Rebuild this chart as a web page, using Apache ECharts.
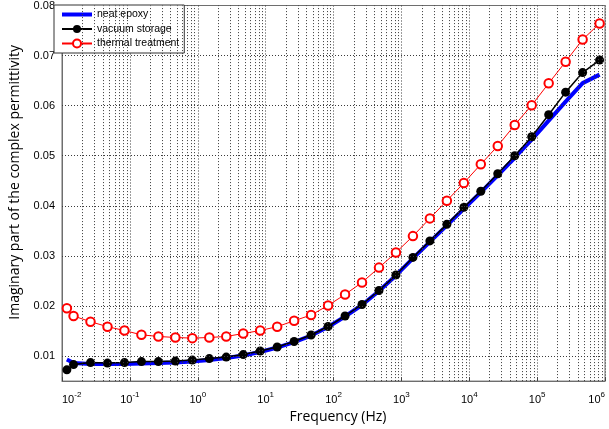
<!DOCTYPE html>
<html>
<head>
<meta charset="utf-8">
<script src="https://cdn.jsdelivr.net/npm/echarts@6/dist/echarts.min.js"></script>
<style>
html,body{margin:0;padding:0;background:#fff;}
#chart{width:609px;height:429px;}
</style>
</head>
<body>
<div id="chart"></div>
<script>
// Frequencies (Hz)
const freq = [0.0118, 0.0148, 0.0263, 0.0468, 0.0832, 0.148, 0.263, 0.468, 0.832,
  1.48, 2.63, 4.68, 8.32, 14.8, 26.3, 46.8, 83.2, 148, 263, 468, 832,
  1480, 2630, 4680, 8320, 14800, 26300, 46800, 83200, 148000, 263000, 468000, 832000];

const neatEpoxy = [0.0093, 0.0086, 0.0084, 0.0084, 0.0084, 0.0085, 0.0086, 0.0087, 0.0089,
  0.0092, 0.0096, 0.0101, 0.0108, 0.0117, 0.0128, 0.0141, 0.0158, 0.0179, 0.0202, 0.0230, 0.0261,
  0.0295, 0.0328, 0.0361, 0.0394, 0.0427, 0.0461, 0.0496, 0.0532, 0.0570, 0.0608, 0.0645, 0.0662];

const vacuumStorage = [0.00725, 0.0083, 0.0087, 0.0086, 0.0087, 0.0089, 0.0089, 0.0090, 0.0092,
  0.0095, 0.0098, 0.0103, 0.0110, 0.0118, 0.0129, 0.0142, 0.0159, 0.0180, 0.0203, 0.0231, 0.0262,
  0.0297, 0.0330, 0.0363, 0.0397, 0.0429, 0.0464, 0.0500, 0.0538, 0.0582, 0.0627, 0.0666, 0.0691];

const thermalTreatment = [0.01955, 0.0180, 0.01686, 0.01587, 0.01509, 0.01424, 0.01391, 0.01371, 0.01358,
  0.01371, 0.01391, 0.0145, 0.0151, 0.01587, 0.01705, 0.0182, 0.0201, 0.0223, 0.0247, 0.02766, 0.03067,
  0.03395, 0.03749, 0.04102, 0.04456, 0.04829, 0.05196, 0.05615, 0.06008, 0.06446, 0.06878, 0.0732, 0.0764];

// Axis ticks
const xDecades = [-2, -1, 0, 1, 2, 3, 4, 5, 6];
const yTickValues = [0.01, 0.02, 0.03, 0.04, 0.05, 0.06, 0.07, 0.08];
const seriesNames = ['neat epoxy', 'vacuum storage', 'thermal treatment'];

// minor log grid positions (2..9 in each decade)
const minorX = [];
for (let d = xDecades[0]; d < xDecades[xDecades.length - 1]; d++) {
  for (let m = 2; m <= 9; m++) minorX.push(m * Math.pow(10, d));
}

const pair = arr => freq.map((f, i) => [f, arr[i]]);
const dotted = { type: [1, 2], color: '#3a3a3a', width: 1 };

const chart = echarts.init(document.getElementById('chart'), null, { renderer: 'canvas' });
chart.setOption({
  animation: false,
  backgroundColor: '#fff',
  grid: { left: 54, right: 4, top: 5, bottom: 42, show: true, borderColor: '#6e6e6e', borderWidth: 1, backgroundColor: '#fff' },
  legend: {
    data: [
      { name: seriesNames[0], icon: 'path://M0,0 H30 V4 H0 Z' },
      { name: seriesNames[1] },
      { name: seriesNames[2] }
    ],
    orient: 'vertical',
    left: 54, top: 5,
    backgroundColor: '#fff',
    borderColor: '#333', borderWidth: 1, borderRadius: 0,
    padding: [4, 5, 4, 7],
    itemWidth: 30, itemHeight: 10, itemGap: 3.5,
    symbolKeepAspect: true,
    textStyle: { fontSize: 10.5, fontFamily: 'Liberation Sans, Arial', color: '#000' }
  },
  xAxis: {
    type: 'log', logBase: 10, min: 0.01, max: 1e6,
    name: 'Frequency (Hz)', nameLocation: 'middle', nameGap: 28,
    nameTextStyle: { fontSize: 14, fontFamily: 'Open Sans', color: '#000', padding: [0, 0, 0, 9] },
    axisLine: { show: true, lineStyle: { color: '#6e6e6e', width: 1 } },
    axisTick: { show: true, inside: true, length: 4, lineStyle: { color: '#444' } },
    splitLine: { show: true, lineStyle: dotted },
    axisLabel: {
      margin: 10, color: '#000', fontFamily: 'Liberation Sans, Arial', fontSize: 11,
      alignMinLabel: 'left', alignMaxLabel: 'right',
      formatter: v => '10{s|' + Math.round(Math.log10(v)) + '}',
      rich: { s: { fontSize: 8, fontFamily: 'Liberation Sans, Arial', color: '#000', padding: [0, 0, 9, 0] } }
    }
  },
  yAxis: {
    type: 'value', min: 0.005, max: 0.08, interval: 0.005,
    name: 'Imaginary part of the complex permittivity', nameLocation: 'middle', nameGap: 40, nameRotate: 90,
    nameTextStyle: { fontSize: 14, fontFamily: 'Open Sans', color: '#000', padding: [0, 0, 0, 22] },
    axisLine: { show: true, lineStyle: { color: '#6e6e6e', width: 1 } },
    axisTick: { show: false },
    splitLine: { show: false },
    axisLabel: {
      margin: 7, color: '#000', fontFamily: 'Liberation Sans, Arial', fontSize: 11,
      formatter: v => {
        const hit = yTickValues.find(t => Math.abs(t - v) < 1e-9);
        return hit ? hit.toFixed(2) : '';
      }
    }
  },
  series: [
    {
      name: 'grid', type: 'line', data: [], z: 1, silent: true,
      markLine: {
        silent: true, symbol: 'none', label: { show: false }, animation: false,
        lineStyle: dotted,
        data: minorX.map(v => ({ xAxis: v })).concat(yTickValues.slice(0, -1).map(v => ({ yAxis: v })))
      }
    },
    {
      name: seriesNames[0], type: 'line', data: pair(neatEpoxy), z: 3,
      symbol: 'none',
      lineStyle: { color: '#0000ff', width: 4 }, itemStyle: { color: '#0000ff' }
    },
    {
      name: seriesNames[1], type: 'line', data: pair(vacuumStorage), z: 4,
      symbol: 'circle', symbolSize: 9, lineStyle: { color: '#000', width: 1.5 }, itemStyle: { color: '#000' }
    },
    {
      name: seriesNames[2], type: 'line', data: pair(thermalTreatment), z: 5,
      symbol: 'emptyCircle', symbolSize: 8.5, lineStyle: { color: '#ff0000', width: 1 },
      itemStyle: { color: '#ff0000', borderColor: '#ff0000', borderWidth: 1.2 }
    }
  ]
});
</script>
</body>
</html>
